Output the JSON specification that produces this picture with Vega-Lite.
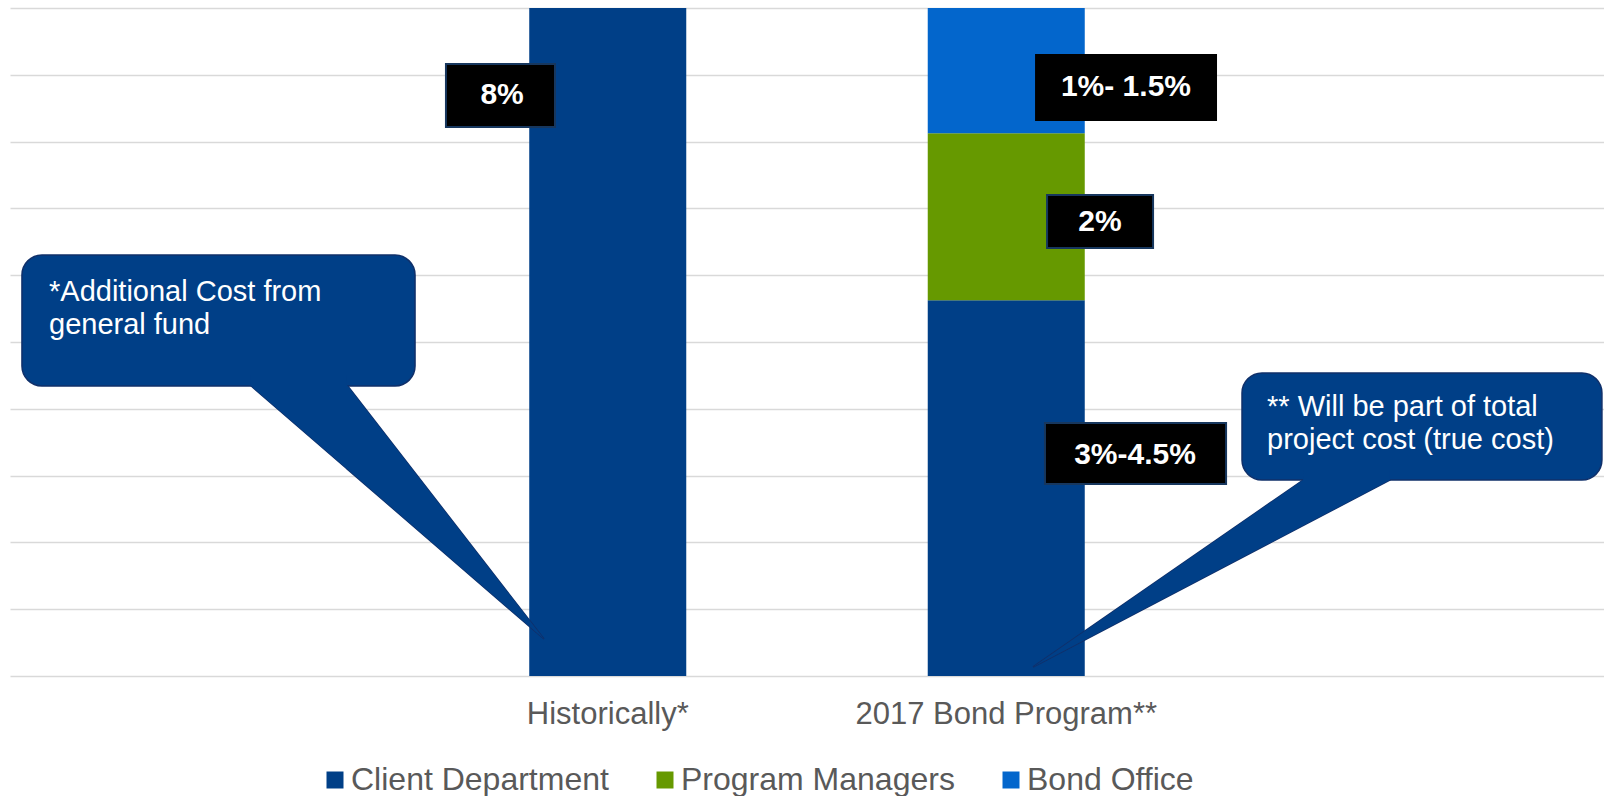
{
  "$schema": "https://vega.github.io/schema/vega-lite/v6.json",
  "width": 1594,
  "height": 668,
  "autosize": {"type": "none"},
  "padding": {"left": 10, "top": 8, "right": 0, "bottom": 120},
  "background": "white",
  "config": {
    "font": "Liberation Sans",
    "view": {"stroke": null}
  },
  "datasets": {
    "bars": [
      {"category": "Historically*", "segment": "Client Department", "value": 8, "ord": 1},
      {"category": "2017 Bond Program**", "segment": "Client Department", "value": 4.5, "ord": 1},
      {"category": "2017 Bond Program**", "segment": "Program Managers", "value": 2, "ord": 2},
      {"category": "2017 Bond Program**", "segment": "Bond Office", "value": 1.5, "ord": 3}
    ],
    "boxes": [
      {"label": "8%", "x1": 27.35, "x2": 34.19, "y1": 7.329, "y2": 6.575, "tx": 30.87, "ty": 6.958},
      {"label": "1%- 1.5%", "x1": 64.37, "x2": 75.66, "y1": 7.437, "y2": 6.659, "tx": 70.01, "ty": 7.048},
      {"label": "2%", "x1": 65.06, "x2": 71.71, "y1": 5.76, "y2": 5.126, "tx": 68.38, "ty": 5.437},
      {"label": "3%-4.5%", "x1": 64.93, "x2": 76.29, "y1": 3.03, "y2": 2.299, "tx": 70.58, "ty": 2.647}
    ],
    "callouts": [
      {"id": 1, "x1": 0.75, "x2": 25.41, "y1": 5.042, "y2": 3.473, "tx": 2.447, "ty": 4.491, "text": ["*Additional Cost from", "general fund"]},
      {"id": 2, "x1": 77.29, "x2": 99.87, "y1": 3.629, "y2": 2.347, "tx": 78.86, "ty": 3.114, "text": ["** Will be part of total", "project cost (true cost)"]}
    ],
    "tails": [
      {"id": 1, "ax": 15.06, "ya": 3.605, "yb": 3.485},
      {"id": 1, "ax": 21.08, "ya": 3.605, "yb": 2.491},
      {"id": 1, "ax": 21.14, "ya": 3.485, "yb": 2.481},
      {"id": 1, "ax": 33.5, "ya": 0.443, "yb": 0.443},
      {"id": 2, "ax": 64.18, "ya": 0.108, "yb": 0.108},
      {"id": 2, "ax": 81.12, "ya": 2.347, "yb": 1.801},
      {"id": 2, "ax": 81.18, "ya": 2.467, "yb": 1.807},
      {"id": 2, "ax": 86.57, "ya": 2.467, "yb": 2.347}
    ]
  },
  "resolve": {"scale": {"x": "independent"}},
  "layer": [
    {
      "data": {"name": "bars"},
      "mark": {"type": "bar", "width": {"band": 0.394}},
      "encoding": {
        "x": {
          "field": "category",
          "type": "nominal",
          "sort": ["Historically*", "2017 Bond Program**"],
          "scale": {"paddingInner": 0, "paddingOuter": 1},
          "axis": {
            "title": null,
            "labelAngle": 0,
            "labelFontSize": 31,
            "labelColor": "#595959",
            "labelFont": "Liberation Sans",
            "labelLimit": 0,
            "ticks": false,
            "tickSize": 0,
            "domain": false,
            "grid": false,
            "labelPadding": 23
          }
        },
        "y": {
          "field": "value",
          "type": "quantitative",
          "stack": "zero",
          "title": null,
          "scale": {"domain": [0, 8], "nice": false, "zero": true},
          "axis": {
            "values": [0, 0.8, 1.6, 2.4, 3.2, 4, 4.8, 5.6, 6.4, 7.2, 8],
            "labels": false,
            "ticks": false,
            "domain": false,
            "grid": true,
            "gridColor": "#d9d9d9",
            "gridWidth": 1.4,
            "title": null
          }
        },
        "color": {
          "field": "segment",
          "type": "nominal",
          "scale": {
            "domain": ["Client Department", "Program Managers", "Bond Office"],
            "range": ["#003f87", "#669900", "#0366cc"]
          },
          "legend": {
            "title": null,
            "orient": "none",
            "direction": "horizontal",
            "legendX": 309,
            "legendY": 756,
            "symbolType": "square",
            "symbolSize": 289,
            "symbolStrokeWidth": 0,
            "labelFontSize": 32,
            "labelColor": "#595959",
            "labelFont": "Liberation Sans",
            "labelLimit": 0,
            "labelOffset": 0,
            "columnPadding": 40,
            "padding": 0
          }
        },
        "order": {"field": "ord", "type": "quantitative"}
      }
    },
    {
      "data": {"name": "tails"},
      "mark": {"type": "area", "color": "#003f87", "stroke": "#10306a", "strokeWidth": 1.5, "interpolate": "linear"},
      "encoding": {
        "x": {"field": "ax", "type": "quantitative", "scale": {"domain": [0, 100], "nice": false, "zero": false}, "axis": null},
        "y": {"field": "ya", "type": "quantitative", "stack": null, "title": null},
        "y2": {"field": "yb"},
        "detail": {"field": "id", "type": "nominal"}
      }
    },
    {
      "data": {"name": "callouts"},
      "mark": {"type": "rect", "color": "#003f87", "stroke": "#10306a", "strokeWidth": 1.5, "cornerRadius": 20},
      "encoding": {
        "x": {"field": "x1", "type": "quantitative", "scale": {"domain": [0, 100], "nice": false, "zero": false}, "axis": null},
        "x2": {"field": "x2"},
        "y": {"field": "y1", "type": "quantitative", "title": null},
        "y2": {"field": "y2"}
      }
    },
    {
      "data": {"name": "tails"},
      "mark": {"type": "area", "color": "#003f87", "interpolate": "linear"},
      "encoding": {
        "x": {"field": "ax", "type": "quantitative", "scale": {"domain": [0, 100], "nice": false, "zero": false}, "axis": null},
        "y": {"field": "ya", "type": "quantitative", "stack": null, "title": null},
        "y2": {"field": "yb"},
        "detail": {"field": "id", "type": "nominal"}
      }
    },
    {
      "data": {"name": "callouts"},
      "mark": {"type": "text", "align": "left", "baseline": "alphabetic", "fontSize": 29, "lineHeight": 33, "color": "white", "font": "Liberation Sans"},
      "encoding": {
        "x": {"field": "tx", "type": "quantitative", "scale": {"domain": [0, 100], "nice": false, "zero": false}, "axis": null},
        "y": {"field": "ty", "type": "quantitative", "title": null},
        "text": {"field": "text"}
      }
    },
    {
      "data": {"name": "boxes"},
      "mark": {"type": "rect", "fill": "black", "strokeWidth": 2},
      "encoding": {
        "x": {"field": "x1", "type": "quantitative", "scale": {"domain": [0, 100], "nice": false, "zero": false}, "axis": null},
        "x2": {"field": "x2"},
        "y": {"field": "y1", "type": "quantitative", "title": null},
        "y2": {"field": "y2"},
        "stroke": {"condition": {"test": "datum.label === '1%- 1.5%'", "value": "black"}, "value": "#17375e"}
      }
    },
    {
      "data": {"name": "boxes"},
      "mark": {"type": "text", "align": "center", "baseline": "middle", "fontSize": 30, "fontWeight": "bold", "color": "white", "font": "Liberation Sans"},
      "encoding": {
        "x": {"field": "tx", "type": "quantitative", "scale": {"domain": [0, 100], "nice": false, "zero": false}, "axis": null},
        "y": {"field": "ty", "type": "quantitative", "title": null},
        "text": {"field": "label"}
      }
    }
  ]
}
